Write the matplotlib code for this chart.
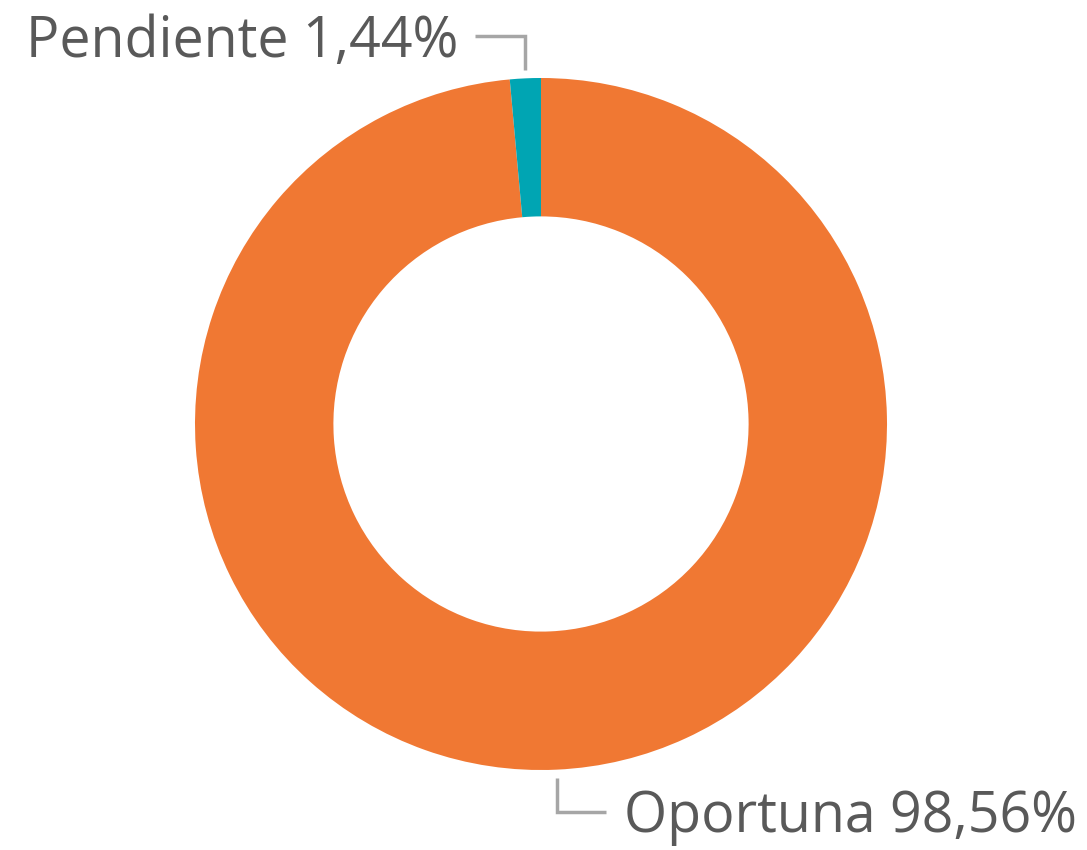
import numpy as np
import matplotlib
matplotlib.use("Agg")
import matplotlib.pyplot as plt

# datos
labels = ["Oportuna", "Pendiente"]
values = [98.56, 1.44]
colors = ["#F07833", "#00A5B3"]

W, H = 1087, 850
CX, CY = 541, H - 424
R = 346
RING = 0.4

plt.rcParams["font.family"] = ["Open Sans", "DejaVu Sans"]

fig = plt.figure(figsize=(W / 100, H / 100), dpi=100)
ax = fig.add_axes([0, 0, 1, 1])
ax.set_xlim(0, W)
ax.set_ylim(0, H)
ax.set_aspect("equal")
ax.axis("off")

wedges, _ = ax.pie(
    values,
    colors=colors,
    startangle=90,
    counterclock=False,
    center=(CX, CY),
    radius=R,
    wedgeprops=dict(width=R * RING, linewidth=0),
)
ax.set_xlim(0, W)
ax.set_ylim(0, H)

line_col = "#A6A6A6"
text_col = "#595959"

for w, lab, val in zip(wedges, labels, values):
    mid = np.deg2rad((w.theta1 + w.theta2) / 2)
    x0 = CX + R * np.cos(mid)
    y0 = CY + R * np.sin(mid)
    txt = f"{lab} {val:.2f}%".replace(".", ",")
    if y0 > CY:
        ya = y0 + 8
        yb = H - 36
        ax.plot([x0, x0, x0 - 50], [ya, yb, yb], color=line_col, lw=2.5,
                solid_capstyle="butt", solid_joinstyle="miter")
        ax.text(x0 - 67, yb - 6, txt, ha="right", va="center",
                fontsize=40, color=text_col)
    else:
        ya = y0 - 8
        yb = H - 812
        ax.plot([x0, x0, x0 + 49], [ya, yb, yb], color=line_col, lw=2.5,
                solid_capstyle="butt", solid_joinstyle="miter")
        ax.text(x0 + 67, yb - 6, txt, ha="left", va="center",
                fontsize=40, color=text_col)

fig.savefig("out.png", dpi=100)
